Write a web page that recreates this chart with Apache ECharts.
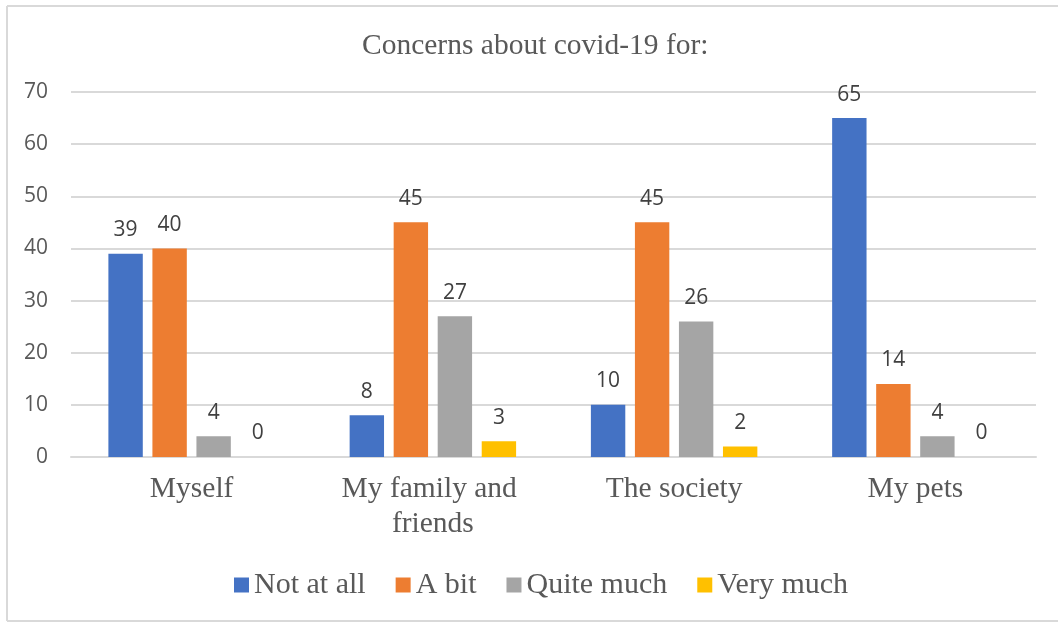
<!DOCTYPE html>
<html>
<head>
<meta charset="utf-8">
<script src="https://cdn.jsdelivr.net/npm/echarts@6/dist/echarts.min.js"></script>
<style>
  html, body { margin: 0; padding: 0; background: #ffffff; }
  #chart { width: 1058px; height: 622px; }
</style>
</head>
<body>
<div id="chart"></div>
<script>
// Survey answers per concern target
const categories = ['Myself', 'My family and friends', 'The society', 'My pets'];
const seriesNames = ['Not at all', 'A bit', 'Quite much', 'Very much'];
const notAtAll = [39, 8, 10, 65];
const aBit = [40, 45, 45, 14];
const quiteMuch = [4, 27, 26, 4];
const veryMuch = [0, 3, 2, 0];
const colors = ['#4472C4', '#ED7D31', '#A5A5A5', '#FFC000'];

const serif = '"Liberation Serif", "Times New Roman", serif';
const sans = '"Open Sans", "Noto Sans", sans-serif';

const values = [notAtAll, aBit, quiteMuch, veryMuch];

const chart = echarts.init(document.getElementById('chart'), null, { renderer: 'canvas' });

chart.setOption({
  backgroundColor: '#ffffff',
  animation: false,
  color: colors,
  title: {
    text: 'Concerns about covid-19 for:',
    left: 362,
    top: 31,
    padding: 0,
    textStyle: { fontFamily: serif, fontSize: 29.5, fontWeight: 'normal', color: '#595959' }
  },
  legend: {
    left: 234,
    top: 570,
    padding: 0,
    icon: 'rect',
    itemWidth: 15,
    itemHeight: 15,
    itemGap: 30,
    data: seriesNames,
    textStyle: { fontFamily: serif, fontSize: 30, color: '#595959', padding: [0, 0, 0, 0] }
  },
  grid: { left: 71, right: 22, top: 92, bottom: 165, containLabel: false },
  xAxis: {
    type: 'category',
    data: categories,
    axisLine: { lineStyle: { color: '#d9d9d9', width: 2 } },
    axisTick: { show: false },
    axisLabel: {
      fontFamily: serif, fontSize: 29.5, color: '#595959',
      margin: 15, lineHeight: 35, width: 205, overflow: 'break', interval: 0
    }
  },
  yAxis: {
    type: 'value',
    min: 0, max: 70, interval: 10,
    axisLine: { show: false },
    axisTick: { show: false },
    splitLine: { lineStyle: { color: '#d9d9d9', width: 2 } },
    axisLabel: { fontFamily: sans, fontSize: 21, color: '#595959', margin: 23 }
  },
  series: seriesNames.map((name, i) => ({
    name: name,
    type: 'bar',
    data: values[i],
    barGap: '28%',
    barCategoryGap: '31%',
    itemStyle: { color: colors[i] },
    label: {
      show: true, position: 'top', distance: 13,
      fontFamily: sans, fontSize: 21, color: '#404040'
    }
  })),
  graphic: [
    { type: 'line', shape: { x1: 7, y1: 6, x2: 1058, y2: 6 }, style: { stroke: '#d9d9d9', lineWidth: 2 } },
    { type: 'line', shape: { x1: 7, y1: 6, x2: 7, y2: 621 }, style: { stroke: '#d9d9d9', lineWidth: 2 } },
    { type: 'line', shape: { x1: 7, y1: 621, x2: 1058, y2: 621 }, style: { stroke: '#d9d9d9', lineWidth: 2 } }
  ]
});
</script>
</body>
</html>
